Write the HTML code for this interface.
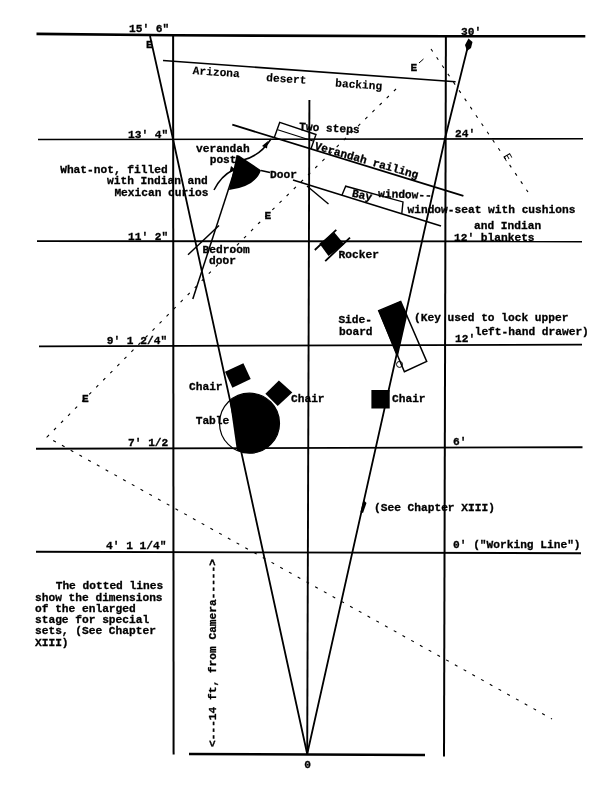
<!DOCTYPE html>
<html><head><meta charset="utf-8">
<style>
html,body{margin:0;padding:0;background:#fff;width:613px;height:786px;overflow:hidden}
svg{display:block}
svg{will-change:transform}
text{font-family:"Liberation Mono",monospace;font-weight:bold;font-size:11.2px;fill:#000;stroke:#000;stroke-width:0.3}
</style></head><body>
<svg width="613" height="786" viewBox="0 0 613 786">
<rect width="613" height="786" fill="#fff"/>
<g stroke="#000" fill="none" stroke-linecap="butt">
  <!-- horizontal lines -->
  <polyline points="36.5,33.9 173,35.3 445,36.3 585.3,36.3" stroke-width="2.6"/>
  <line x1="38" y1="139.5" x2="583" y2="138.8" stroke-width="1.6"/>
  <line x1="37" y1="241.1" x2="582" y2="241.5" stroke-width="1.8"/>
  <line x1="39" y1="346.3" x2="582" y2="344.7" stroke-width="1.8"/>
  <line x1="36" y1="448.8" x2="582.5" y2="447.2" stroke-width="1.9"/>
  <line x1="36" y1="551.8" x2="581" y2="553.2" stroke-width="1.9"/>
  <line x1="189" y1="754" x2="425" y2="755" stroke-width="2.4"/>
  <!-- vertical lines -->
  <line x1="173.1" y1="35" x2="173.6" y2="754.5" stroke-width="2"/>
  <line x1="445.9" y1="36" x2="444" y2="756.5" stroke-width="2"/>
  <line x1="309.4" y1="100" x2="307.2" y2="754" stroke-width="1.9"/>
  <!-- converging -->
  <polyline points="150,36 173,139 307.2,754" stroke-width="1.8"/>
  <polyline points="468.5,44 445,138.5 307.2,754" stroke-width="1.8"/>
  <!-- arizona backing -->
  <line x1="163" y1="60.5" x2="455.6" y2="81.8" stroke-width="1.6"/>
  <!-- verandah railing -->
  <line x1="232.3" y1="124.7" x2="463.4" y2="195.8" stroke-width="1.8"/>
  <!-- steps -->
  <polyline points="274.3,137.5 279.7,122.4 316,134.5 311,148.7" stroke-width="1.4"/>
  <line x1="277.7" y1="129.7" x2="313" y2="141" stroke-width="1.2"/>
  <!-- lower wall -->
  <line x1="293" y1="180" x2="441" y2="226" stroke-width="1.6"/>
  <line x1="307" y1="186" x2="328.5" y2="204" stroke-width="1.4"/>
  <!-- bay window -->
  <polyline points="341.8,195.5 345.7,186.2 403,201.9 401.8,213.5" stroke-width="1.4"/>
  <!-- whatnot wall -->
  <line x1="238" y1="160" x2="192.8" y2="299" stroke-width="1.5"/>
  <line x1="188" y1="254.8" x2="219" y2="225.5" stroke-width="1.5"/>
  <!-- arrows curves -->
  <path d="M243,160 Q260,156 271,139" stroke-width="1.5"/>
  <path d="M214,190 Q221,176 233,170" stroke-width="1.5"/>
  <line x1="261" y1="170.5" x2="270" y2="172.5" stroke-width="1.5"/>
  <!-- table outline -->
  <circle cx="249.5" cy="423.2" r="30" stroke-width="1.2"/>
  <!-- sideboard outline -->
  <polygon points="378.7,310.6 400.7,301.5 426.7,361.5 404.4,371.8" stroke-width="1.5"/>
  <circle cx="399.5" cy="364.4" r="3" stroke-width="1"/>
  <!-- rocker runners -->
  <line x1="314.8" y1="250" x2="336.3" y2="229.8" stroke-width="1.8"/>
  <line x1="325.2" y1="261.1" x2="350" y2="237.6" stroke-width="1.8"/>
  <!-- dotted -->
  <g stroke-dasharray="3,7" stroke-width="1.1">
    <line x1="431" y1="49" x2="528" y2="192"/>
    <polyline points="396,89 259,223 47,437 552,719"/>
  </g>
  <!-- vertical arrow line handled by text -->
</g>
<g fill="#000" stroke="none">
  <path d="M468.5,38.5 L472.5,42 L471,48 L467,51 L465,45 Z"/>
  <path d="M236.5,155 L239,155.5 L261,170.2 Q255.6,186.4 229,190 L233,172 Z"/>
  <path d="M231,166 L236,170 L229.5,172.5 Z"/>
  <path d="M262,146 L268,141 L267,148.5 Z"/>
  <polygon points="319.4,243.5 334.4,232.4 344.2,244.2 328.5,255.9"/>
  <polygon points="378.5,311 400.4,301.3 407.3,315 398,356 396.5,356"/>
  <rect x="371.4" y="390" width="18.3" height="18.5"/>
  <polygon points="225,371.8 243.4,363.2 250.7,379.1 232.4,387.7"/>
  <polygon points="278.9,380.4 292.3,392.6 277.7,406 265.4,393.8"/>
</g>
<clipPath id="tc"><circle cx="249.5" cy="423.2" r="30"/></clipPath>
<polygon clip-path="url(#tc)" points="222.5,350 300,350 300,500 244,500" fill="#000"/>
<!-- labels -->
<text x="129" y="32">15' 6"</text>
<text x="461" y="35">30'</text>
<text x="128" y="138">13' 4"</text>
<text x="455" y="137">24'</text>
<text x="128" y="239.5">11' 2"</text>
<text x="106.7" y="343.5">9' 1 2/4"</text>
<text x="455" y="342">12'</text>
<text x="128" y="445.5">7' 1/2</text>
<text x="453" y="445">6'</text>
<text x="106" y="548.5">4' 1 1/4"</text>
<text x="453" y="547.5">0' ("Working Line")</text>
<text x="304.2" y="768">0</text>
<text x="146" y="48">E</text>
<text x="410.5" y="71">E</text>
<line x1="419" y1="63" x2="423.5" y2="59" stroke="#000" stroke-width="1"/>
<text x="264.5" y="219">E</text>
<text x="82" y="402">E</text>
<text transform="translate(503,156) rotate(60)" style="font-weight:normal;stroke-width:0">E</text>
<text transform="translate(192.6,74) rotate(4)" style="stroke-width:0.15">Arizona</text>
<text transform="translate(266,81) rotate(4)" style="stroke-width:0.15">desert</text>
<text transform="translate(335,86.5) rotate(4)" style="stroke-width:0.15">backing</text>
<text transform="translate(299,130) rotate(3)">Two steps</text>
<text transform="translate(314,149) rotate(16)">Verandah railing</text>
<text x="196" y="151.5">verandah</text>
<text x="209.7" y="162.5">post</text>
<text x="60.2" y="173.3">What-not, filled</text>
<text x="107" y="184">with Indian and</text>
<text x="114.4" y="195.5">Mexican curios</text>
<text x="270" y="178">Door</text>
<text x="202.6" y="252.8">Bedroom</text>
<text x="209" y="264.2">door</text>
<text x="338.6" y="258.4">Rocker</text>
<text transform="translate(351.5,196.5) rotate(12)">Bay</text>
<text transform="translate(378,197) rotate(2)">window--</text>
<text x="407.5" y="213">window-seat with cushions</text>
<text x="474" y="228.5">and Indian</text>
<text x="454" y="240.5">12' blankets</text>
<text x="338.4" y="323">Side-</text>
<text x="339" y="334.5">board</text>
<text x="414" y="321.3">(Key used to lock upper</text>
<text x="474.7" y="334.5">left-hand drawer)</text>
<text x="189" y="389.5">Chair</text>
<text x="195.7" y="423.5">Table</text>
<text x="291" y="402">Chair</text>
<text x="392" y="401.5">Chair</text>
<text x="374" y="511.3">(See Chapter XIII)</text>
<path d="M363.5,500 L366.5,503 L363,513 L360.5,512 Z" fill="#000"/>
<text x="55.7" y="589.2">The dotted lines</text>
<text x="35" y="600.5">show the dimensions</text>
<text x="35" y="611.8">of the enlarged</text>
<text x="35" y="623.1">stage for special</text>
<text x="35" y="634.4">sets, (See Chapter</text>
<text x="35" y="645.7">XIII)</text>
<text transform="translate(215.5,747) rotate(-90)">&lt;---14 ft, from Camera-----&gt;</text>
</svg>
</body></html>
